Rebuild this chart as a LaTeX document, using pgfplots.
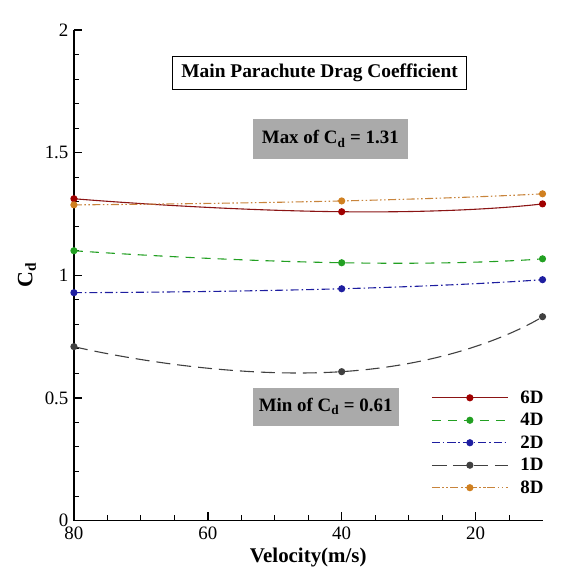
\documentclass[border=0pt]{standalone}
\usepackage{pgfplots}
\pgfplotsset{compat=1.18}
\usepackage{fontspec}
\setmainfont{Liberation Serif}[BoldFont={Liberation Serif Bold}]
\definecolor{c6}{HTML}{8B1414}
\definecolor{m6}{HTML}{A00000}
\definecolor{c4}{HTML}{22A022}
\definecolor{c2}{HTML}{1E1EA0}
\definecolor{c1}{HTML}{404040}
\definecolor{c8}{HTML}{C8843C}
\definecolor{m8}{HTML}{D08020}
\definecolor{boxgray}{HTML}{AAAAAA}
\begin{document}
\begin{tikzpicture}
\begin{axis}[
  at={(0,0)}, anchor=south west,
  scale only axis, width=469bp, height=491bp,
  xmin=10, xmax=80, ymin=0, ymax=2,
  x dir=reverse,
  axis line style={draw=none},
  xtick={20,40,60,80}, ytick={0,0.5,1,1.5,2},
  xtick pos=left, ytick pos=left,
  tick style={draw=none},
  /pgf/number format/assume math mode=true,
  ticklabel style={font=\fontsize{19}{22}\selectfont},
  yticklabel style={xshift=-2bp},
  xticklabel style={yshift=-3bp},
  xlabel={\textbf{Velocity(m/s)}},
  xlabel style={font=\fontsize{21}{24}\selectfont, yshift=-1bp},
  ylabel={\textbf{C\textsubscript{d}}},
  ylabel style={font=\fontsize{22}{24}\selectfont, yshift=2bp},
  clip=false,
  legend style={draw=none, fill=none, at={(rel axis cs:0.756,0.273)}, anchor=north west,
    font=\fontsize{19}{22}\selectfont\bfseries, row sep=4.5bp, cells={anchor=west}},
  legend image code/.code={\draw[mark repeat=2,mark phase=2,#1] plot coordinates {(0bp,0bp) (38bp,0bp) (76bp,0bp)};\path (86bp,0bp);},
  every axis plot/.append style={line width=1.1bp, mark size=3bp},
]
\draw[line width=1.6bp, black] (axis cs:80,2) -- (axis cs:80,0) -- (axis cs:10,0);
\pgfplotsinvokeforeach{20,40,60,80}{\draw[line width=1.5bp, black] (axis cs:#1,0) -- (axis cs:#1,0.033);}
\pgfplotsinvokeforeach{15,25,30,35,45,50,55,65,70,75}{\draw[line width=1bp, black] (axis cs:#1,0) -- (axis cs:#1,0.021);}
\pgfplotsinvokeforeach{0.5,1,1.5,2}{\draw[line width=1.5bp, black] (axis cs:80,#1) -- (axis cs:78.8,#1);}
\pgfplotsinvokeforeach{0.1,0.2,0.3,0.4,0.6,0.7,0.8,0.9,1.1,1.2,1.3,1.4,1.6,1.7,1.8,1.9}{\draw[line width=1bp, black] (axis cs:80,#1) -- (axis cs:79.25,#1);}
\addplot[c6, solid, smooth, tension=1, mark=*, mark options={fill=m6, draw=m6, solid}] coordinates {(80,1.312) (40,1.259) (10,1.291)};
\addlegendentry{6D}
\addplot[c4, dash pattern=on 9bp off 7bp, smooth, tension=1, mark=*, mark options={fill=c4, draw=c4, solid}] coordinates {(80,1.100) (40,1.051) (10,1.067)};
\addlegendentry{4D}
\addplot[c2, dash pattern=on 8bp off 3bp on 1.5bp off 3bp, smooth, tension=1, mark=*, mark options={fill=c2, draw=c2, solid}] coordinates {(80,0.929) (40,0.945) (10,0.982)};
\addlegendentry{2D}
\addplot[c1, dash pattern=on 14bp off 7bp, smooth, tension=1, mark=*, mark options={fill=c1, draw=c1, solid}] coordinates {(80,0.709) (40,0.607) (10,0.831)};
\addlegendentry{1D}
\addplot[c8, dash pattern=on 8bp off 2.5bp on 1.5bp off 2.5bp on 1.5bp off 2.5bp, smooth, tension=1, mark=*, mark options={fill=m8, draw=m8, solid}] coordinates {(80,1.287) (40,1.303) (10,1.332)};
\addlegendentry{8D}
\node[draw=black, line width=0.8bp, fill=white, minimum width=294bp, minimum height=34bp, inner sep=0pt,
  font=\fontsize{19.5}{22}\selectfont\bfseries] at (axis cs:43.3,1.825) {Main Parachute Drag Coefficient};
\node[fill=boxgray, minimum width=155bp, minimum height=40bp, inner sep=0pt,
  font=\fontsize{19}{22}\selectfont\bfseries] at (axis cs:41.7,1.556) {Max of C\textsubscript{d} = 1.31};
\node[fill=boxgray, minimum width=146bp, minimum height=38bp, inner sep=0pt,
  font=\fontsize{19}{22}\selectfont\bfseries] at (axis cs:42.4,0.464) {Min of C\textsubscript{d} = 0.61};
\end{axis}
\path (-74bp,-49bp) rectangle (492bp,521bp);
\end{tikzpicture}
\end{document}
